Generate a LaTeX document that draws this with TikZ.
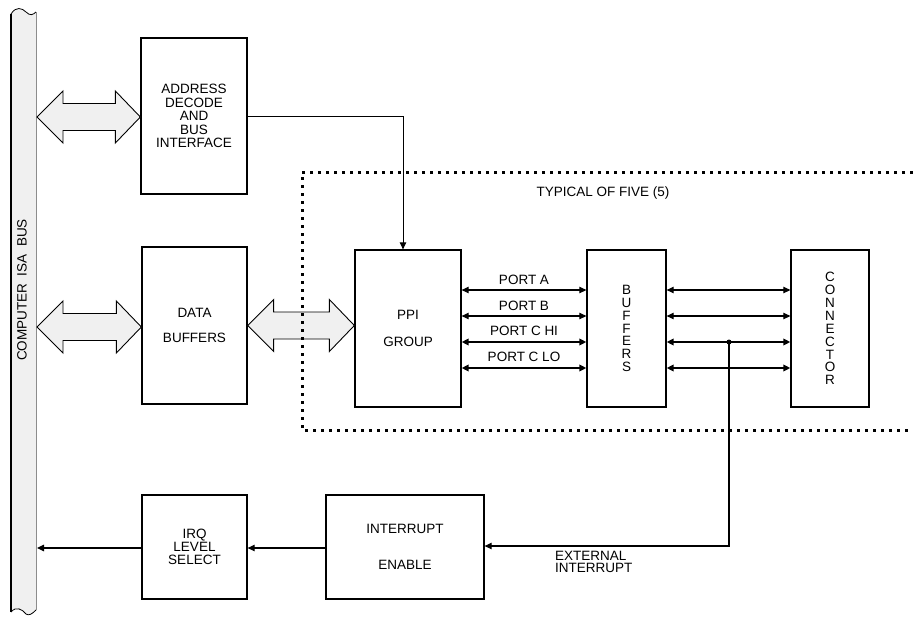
\documentclass[tikz,border=0pt]{standalone}
\usepackage{fontspec}
\setmainfont{Liberation Sans}
\usetikzlibrary{arrows.meta,calc}
\tikzset{
  x=1pt,y=-1pt,
  blk/.style={draw=black,line width=1.3pt,align=center,inner sep=0pt,font=\fontsize{13.5}{13.5}\selectfont},
  lbl/.style={inner sep=0pt,font=\fontsize{13.5}{13.5}\selectfont},
  fat/.style={draw=black,line width=0.9pt,fill=black!6,line join=miter},
  thinarr/.style={line width=1.1pt,{Triangle[length=7pt,width=6.5pt]}-{Triangle[length=7pt,width=6.5pt]}},
  thickarr/.style={line width=1.8pt,{Triangle[length=7pt,width=6.5pt]}-{Triangle[length=7pt,width=6.5pt]}},
  onearr/.style={line width=1.1pt,-{Triangle[length=7pt,width=6.5pt]}},
  dotline/.style={line width=3pt,dash pattern=on 3pt off 5pt,black},
}
\newcommand\fatarrow[2]{% left point, right point (same y)
  \draw[fat] let \p1=(#1), \p2=(#2) in
    (\x1,\y1) -- (\x1+26pt,\y1+26pt) -- (\x1+26pt,\y1+13.5pt) -- (\x2-25pt,\y1+13.5pt)
    -- (\x2-25pt,\y1+26pt) -- (\x2,\y1) -- (\x2-25pt,\y1-26pt) -- (\x2-25pt,\y1-13.5pt)
    -- (\x1+26pt,\y1-13.5pt) -- (\x1+26pt,\y1-26pt) -- cycle;}
\begin{document}
\begin{tikzpicture}
\useasboundingbox (0,0) rectangle (913,616);
% ISA bus bar
\fill[black!6] (11,14) .. controls (16,6) and (22,8) .. (26,12) .. controls (30,16) and (33,15) .. (36,12)
  -- (36,610) .. controls (32,614) and (29,616) .. (26,614) .. controls (22,609) and (16,606) .. (11,612) -- cycle;
\draw[line width=0.8pt] (11,14) .. controls (16,6) and (22,8) .. (26,12) .. controls (30,16) and (33,15) .. (36,12);
\draw[line width=0.8pt] (36,610) .. controls (32,614) and (29,616) .. (26,614) .. controls (22,609) and (16,606) .. (11,612);
\draw[line width=2pt,black] (11,14) -- (11,612);
\draw[line width=1pt,black!45] (36,12) -- (36,610);
\coordinate (busA) at (37,117);
\coordinate (busD) at (37,327);
\coordinate (busI) at (37,548);
\node[lbl,rotate=90] (bustext) at (22,290) {COMPUTER\ \ ISA\ \ BUS};

% boxes
\node[blk,minimum width=106pt,minimum height=156pt] (addr) at (194,116) {ADDRESS\\DECODE\\AND\\BUS\\INTERFACE};
\node[blk,minimum width=105pt,minimum height=157pt,font=\fontsize{13.5}{25}\selectfont] (data) at (194.5,325.5) {DATA\\BUFFERS};
\node[blk,minimum width=106pt,minimum height=157pt,font=\fontsize{13.5}{27}\selectfont] (ppi) at (408,328.5) {PPI\\GROUP};
\node[blk,minimum width=79pt,minimum height=157pt,font=\fontsize{13.5}{12.7}\selectfont] (buf) at (626.5,328.5) {B\\U\\F\\F\\E\\R\\S};
\node[blk,minimum width=78pt,minimum height=157pt,font=\fontsize{13.5}{12.9}\selectfont] (conn) at (830,328.5) {C\\O\\N\\N\\E\\C\\T\\O\\R};
\node[blk,minimum width=105pt,minimum height=104pt,font=\fontsize{13.5}{13}\selectfont] (irq) at (194.5,547) {IRQ\\LEVEL\\SELECT};
\node[blk,minimum width=158pt,minimum height=104pt,font=\fontsize{13.5}{36}\selectfont] (ie) at (405,547) {INTERRUPT\\ENABLE};

% fat bus arrows
\coordinate (ppiL) at (ppi.west |- data.east);
\coordinate (dataR) at (data.east);
\fatarrow{busA}{addr.west}
\fatarrow{dataR}{ppiL}
\fatarrow{busD}{data.west}

% dotted enclosure
\draw[dotline] (913,172) -- (302,172) -- (302,430) -- (913,430);
\node[lbl] (typ) at (603,193) {TYPICAL OF FIVE (5)};

% address to PPI
\coordinate (abend) at (403,116);
\draw[onearr,line width=0.9pt] (addr.east |- abend) -- (abend) -- (abend |- ppi.north);

% ports
\foreach \yy/\nm/\st in {290/PORT A/thinarr,316/PORT B/thinarr,342/PORT C HI/thickarr,368/PORT C LO/thickarr}{
  \draw[\st] (ppi.east |- 0,\yy) -- (buf.west |- 0,\yy) node[lbl,midway,above=5pt] {\nm};
  \draw[\st] (buf.east |- 0,\yy) -- (conn.west |- 0,\yy);
}
% external interrupt
\coordinate (tap) at (729,342);
\fill (tap) circle (2.5pt);
\coordinate (corner) at (729,546);
\draw[onearr] (tap) -- (corner) -- (ie.east |- corner);
\node[lbl,align=left,anchor=north west,font=\fontsize{13.5}{12.5}\selectfont] (ext) at (555,551) {EXTERNAL\\INTERRUPT};

% interrupt chain
\draw[onearr] (ie.west |- 0,548) -- (irq.east |- 0,548);
\draw[onearr] (irq.west |- 0,548) -- (busI);
\end{tikzpicture}
\end{document}
